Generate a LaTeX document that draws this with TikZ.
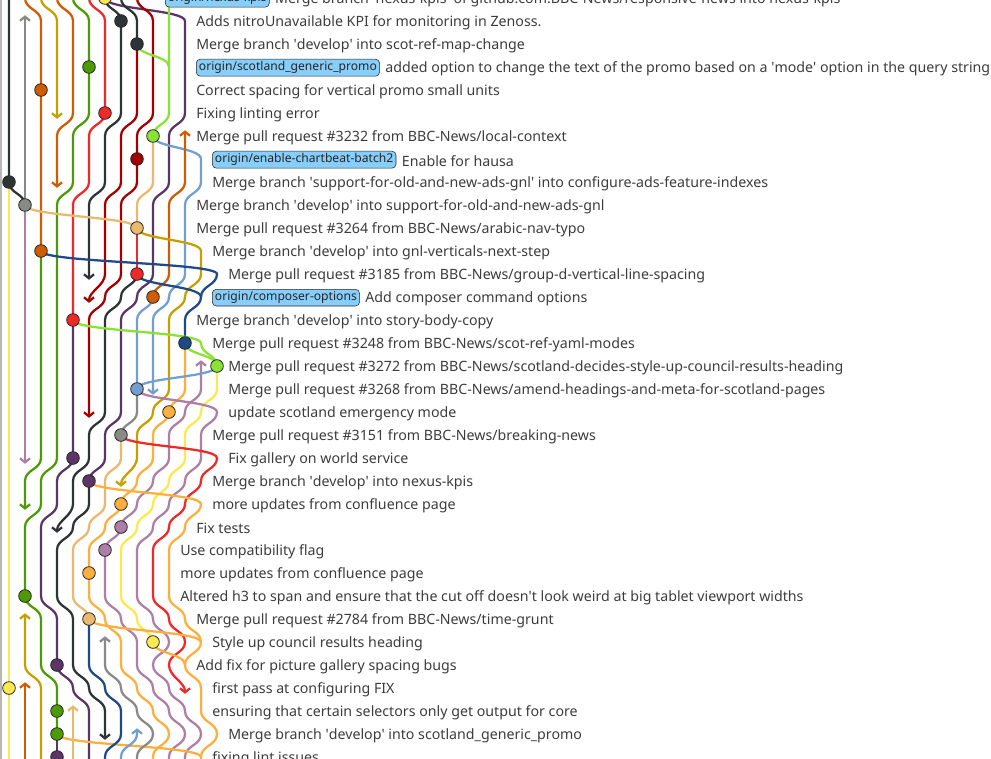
\documentclass[tikz,border=0pt]{standalone}
\usepackage{fontspec}
\setmainfont{Noto Sans}
\usetikzlibrary{arrows.meta,positioning}
\definecolor{LaneDark}{HTML}{2E3436}
\definecolor{LaneGray}{HTML}{888A85}
\definecolor{LaneRust}{HTML}{CE5C00}
\definecolor{LaneGold}{HTML}{C4A000}
\definecolor{LaneGreen}{HTML}{4E9A06}
\definecolor{LaneRed}{HTML}{EF2929}
\definecolor{LaneMaroon}{HTML}{A40000}
\definecolor{LaneLime}{HTML}{8AE234}
\definecolor{LanePlum}{HTML}{5C3566}
\definecolor{LaneSky}{HTML}{729FCF}
\definecolor{LaneNavy}{HTML}{204A87}
\definecolor{LaneTan}{HTML}{E9B96E}
\definecolor{LaneOrange}{HTML}{FCAF3E}
\definecolor{LaneMauve}{HTML}{AD7FA8}
\definecolor{LaneYellow}{HTML}{FCE94F}
\definecolor{RefBlue}{HTML}{87CEFA}
\definecolor{MsgGray}{HTML}{3C3C3C}
\newcommand\qs{\textquotesingle}

\begin{document}
\begin{tikzpicture}[x=12pt,y=-17.25pt,
  lane/.style={line width=1.7pt,draw=#1,
    to path={.. controls +(0,0.5) and +(0,-0.5) .. (\tikztotarget)}},
  dnt/.style={-{Straight Barb[length=3pt,width=7.5pt]}},
  upt/.style={{Straight Barb[length=3pt,width=7.5pt]}-},
  cm/.style={circle,draw=black!85,line width=0.6pt,fill=#1,
    minimum size=9.5pt,inner sep=0pt},
  msg/.style={anchor=west,inner sep=0pt,yshift=-1pt,text=MsgGray,
    font=\fontsize{10.65}{12}\selectfont},
  refbox/.style={anchor=west,draw=black!85,rounded corners=3pt,fill=RefBlue,
    inner xsep=2pt,inner ysep=1.8pt,yshift=-0.5pt,text=black!85,
    font=\fontsize{9.1}{11}\selectfont}]
  \useasboundingbox (-0.5625,0.087) rectangle (61.375,33.0435);
  \draw[LaneGray!60,line width=0.8pt] (-0.5,-0.3) -- (-0.5,33.3);
  % lanes coming in from the top
  \draw[lane=LaneDark] (0,-0.3) -- (0,8) to (1,9);
  \draw[lane=LaneGray,upt] (1,0.75) -- (1,9);
  \draw[lane=LaneRust] (1,-0.3) -- (1,0) to (2,1) -- (2,11);
  \draw[lane=LaneGold,dnt] (2,-0.3) -- (2,0) to (3,1) -- (3,5.25);
  \draw[lane=LaneRust,dnt] (3,-0.3) -- (3,0) to (4,1) -- (4,5) to (3,6) -- (3,8.25);
  \draw[lane=LaneGreen] (4,-0.3) -- (4,0) to (5,1) -- (5,5) to (4,6) -- (4,8)
    to (3,9) -- (3,20) to (2,21) -- (2,22) to (1,23) -- (1,26) to (2,27) -- (2,29)
    to (3,30) -- (3,32);
  \draw[lane=LaneRed] (5,-0.3) -- (5,0) to (6,1) -- (6,5) to (5,6) -- (5,8) to (4,9) -- (4,14);
  \draw[lane=LaneDark,dnt] (6,0) to (7,1) -- (7,5) to (6,6) -- (6,8) to (5,9) -- (5,12.25);
  \draw[lane=LanePlum] (6,0) to (11,1) -- (11,5) to (10,6) -- (10,8) to (9,9) -- (9,12)
    to (8,13) to (7,14) -- (7,18) to (6,19) -- (6,20) to (5,21);
  \draw[lane=LaneDark] (7,-0.3) -- (7,0) to (8,1) -- (8,2);
  \draw[lane=LaneMaroon,dnt] (8,-0.3) -- (8,0) to (9,1) -- (9,5) to (8,6) -- (8,8)
    to (7,9) -- (7,12) to (6,13) to (5,14) -- (5,18.25);
  \draw[lane=LaneMaroon,dnt] (8,2) -- (8,5) to (7,6) -- (7,8) to (6,9) -- (6,12) to (5,13.25);
  \draw[lane=LaneLime] (10,-0.3) -- (10,5) to (9,6);
  \draw[lane=LaneLime] (8,2) to (10,3);
  % middle block
  \draw[lane=LaneTan] (9,6) -- (9,8) to (8,9) -- (8,10);
  \draw[lane=LaneTan] (1,9) to (8,10);
  \draw[lane=LaneMauve,dnt] (1,9) -- (1,20.25);
  \draw[lane=LaneSky,dnt] (9,6) to (12,7) -- (12,8) to (11,9) -- (11,12) to (10,13)
    to (9,14) -- (9,17.25);
  \draw[lane=LaneRust,upt] (11,5.75) -- (11,8) to (10,9) -- (10,12) to (9,13);
  \draw[lane=LaneSky] (9,13) to (8,14) -- (8,17);
  \draw[lane=LaneRed] (8,10) -- (8,12);
  \draw[lane=LaneDark,dnt] (8,12) to (7,13) to (6,14) -- (6,18) to (5,19) -- (5,20)
    to (4,21) -- (4,22) to (3,23.25);
  \draw[lane=LaneGold,dnt] (8,10) to (12,11) -- (12,12) to (11,13) to (10,14) -- (10,17)
    to (9,18) to (8,19) -- (8,20) to (7,21.25);
  \draw[lane=LaneNavy] (2,11) to (13,12) to (12,13) to (11,14) -- (11,15);
  \draw[lane=LaneNavy] (8,12) to (12,13);
  \draw[lane=LaneGreen,dnt] (2,11) -- (2,20) to (1,21) -- (1,22.25);
  \draw[lane=LaneLime] (4,14) to (12,15) to (13,16);
  \draw[lane=LaneLime] (11,15) to (13,16);
  \draw[lane=LanePlum] (4,14) -- (4,20) to (3,21) -- (3,22) to (2,23) -- (2,26) to (3,27)
    -- (3,29) to (4,30) to (5,31) -- (5,33.3);
  \draw[lane=LaneOrange] (11,15) -- (11,17) to (10,18) to (9,19) -- (9,20) to (8,21)
    to (7,22) to (6,23) to (5,24) -- (5,26) to (6,27) to (7,28) -- (7,29) to (8,30)
    to (9,31) to (10,32) to (9,33) -- (9,33.3);
  \draw[lane=LaneMauve,upt] (12,15.75) -- (12,17) to (11,18) to (10,19) -- (10,20)
    to (9,21) to (8,22) to (7,23) to (6,24) -- (6,26) to (7,27) to (8,28) -- (8,29)
    to (9,30) to (10,31) to (11,32) to (10,33) -- (10,33.3);
  \draw[lane=LaneYellow] (13,16) -- (13,17) to (12,18) to (11,19) -- (11,20) to (10,21)
    to (9,22) to (8,23) to (7,24) -- (7,26) to (8,27) to (9,28);
  \draw[lane=LaneSky] (13,16) to (8,17);
  \draw[lane=LaneMauve] (8,17) to (13,18) to (12,19) -- (12,20) to (11,21) to (10,22)
    to (9,23) to (8,24) -- (8,26) to (9,27) to (10,28) to (9,29) to (10,30) to (11,31)
    to (12,32) to (11,33) -- (11,33.3);
  \draw[lane=LaneGray] (8,17) -- (8,18) to (7,19);
  \draw[lane=LaneTan] (7,19) -- (7,20) to (6,21) -- (6,22) to (5,23) to (4,24) -- (4,26)
    to (5,27);
  \draw[lane=LaneRed,dnt] (7,19) to (13,20) to (12,21) to (11,22) to (10,23) to (9,24)
    -- (9,26) to (10,27) to (11,28) to (10,29) to (11,30.25);
  \draw[lane=LaneDark,dnt] (5,21) -- (5,22) to (4,23) to (3,24) -- (3,26) to (4,27)
    -- (4,29) to (5,30) to (6,31) -- (6,32.25);
  \draw[lane=LaneOrange] (5,21) to (12,22) to (11,23) to (10,24) -- (10,26) to (11,27)
    to (12,28) to (11,29) to (12,30) -- (12,31) to (13,32) to (12,33) -- (12,33.3);
  % lower block
  \draw[lane=LaneOrange] (5,27) to (12,28);
  \draw[lane=LaneOrange] (9,28) to (11,29);
  \draw[lane=LaneOrange] (3,32) to (12,33);
  \draw[lane=LaneYellow] (0,8) -- (0,33.3);
  \draw[lane=LaneGold,upt] (1,26.75) -- (1,29) to (2,30) -- (2,33.3);
  \draw[lane=LaneRust,upt] (1,29.75) -- (1,33.3);
  \draw[lane=LaneTan,upt] (4,30.75) -- (4,33.3);
  \draw[lane=LaneNavy] (5,27) -- (5,29) to (6,30) to (7,31) -- (7,32) to (6,33) -- (6,33.3);
  \draw[lane=LaneGray,upt] (6,27.75) -- (6,29) to (7,30) to (8,31) to (9,32) to (8,33)
    -- (8,33.3);
  \draw[lane=LaneSky,upt] (8,31.75) -- (8,32) to (7,33) -- (7,33.3);
  \draw[lane=LanePlum] (3,32) -- (3,33.3);
  % commits
  \node[cm=LaneYellow] (c0) at (6,0) {};
  \node[cm=LaneDark] (c1) at (7,1) {};
  \node[cm=LaneDark] (c2) at (8,2) {};
  \node[cm=LaneGreen] (c3) at (5,3) {};
  \node[cm=LaneRust] (c4) at (2,4) {};
  \node[cm=LaneRed] (c5) at (6,5) {};
  \node[cm=LaneLime] (c6) at (9,6) {};
  \node[cm=LaneMaroon] (c7) at (8,7) {};
  \node[cm=LaneDark] (c8) at (0,8) {};
  \node[cm=LaneGray] (c9) at (1,9) {};
  \node[cm=LaneTan] (c10) at (8,10) {};
  \node[cm=LaneRust] (c11) at (2,11) {};
  \node[cm=LaneRed] (c12) at (8,12) {};
  \node[cm=LaneRust] (c13) at (9,13) {};
  \node[cm=LaneRed] (c14) at (4,14) {};
  \node[cm=LaneNavy] (c15) at (11,15) {};
  \node[cm=LaneLime] (c16) at (13,16) {};
  \node[cm=LaneSky] (c17) at (8,17) {};
  \node[cm=LaneOrange] (c18) at (10,18) {};
  \node[cm=LaneGray] (c19) at (7,19) {};
  \node[cm=LanePlum] (c20) at (4,20) {};
  \node[cm=LanePlum] (c21) at (5,21) {};
  \node[cm=LaneOrange] (c22) at (7,22) {};
  \node[cm=LaneMauve] (c23) at (7,23) {};
  \node[cm=LaneMauve] (c24) at (6,24) {};
  \node[cm=LaneOrange] (c25) at (5,25) {};
  \node[cm=LaneGreen] (c26) at (1,26) {};
  \node[cm=LaneTan] (c27) at (5,27) {};
  \node[cm=LaneYellow] (c28) at (9,28) {};
  \node[cm=LanePlum] (c29) at (3,29) {};
  \node[cm=LaneYellow] (c30) at (0,30) {};
  \node[cm=LaneGreen] (c31) at (3,31) {};
  \node[cm=LaneGreen] (c32) at (3,32) {};
  \node[cm=LanePlum] (c33) at (3,33) {};
  % messages
  \node[refbox] (b0) at (9.75,0) {origin/nexus-kpis};
  \node[msg,right=4pt of b0] (t0) {Merge branch \qs nexus-kpis\qs{} of github.com:BBC-News/responsive-news into nexus-kpis};
  \node[msg] (t1) at (11.6875,1) {Adds nitroUnavailable KPI for monitoring in Zenoss.};
  \node[msg] (t2) at (11.6875,2) {Merge branch \qs develop\qs{} into scot-ref-map-change};
  \node[refbox] (b3) at (11.6875,3) {origin/scotland\_generic\_promo};
  \node[msg,right=4pt of b3] (t3) {added option to change the text of the promo based on a \qs mode\qs{} option in the query string};
  \node[msg] (t4) at (11.6875,4) {Correct spacing for vertical promo small units};
  \node[msg] (t5) at (11.6875,5) {Fixing linting error};
  \node[msg] (t6) at (11.6875,6) {Merge pull request \#3232 from BBC-News/local-context};
  \node[refbox] (b7) at (12.6875,7) {origin/enable-chartbeat-batch2};
  \node[msg,right=4pt of b7] (t7) {Enable for hausa};
  \node[msg] (t8) at (12.6875,8) {Merge branch \qs support-for-old-and-new-ads-gnl\qs{} into configure-ads-feature-indexes};
  \node[msg] (t9) at (11.6875,9) {Merge branch \qs develop\qs{} into support-for-old-and-new-ads-gnl};
  \node[msg] (t10) at (11.6875,10) {Merge pull request \#3264 from BBC-News/arabic-nav-typo};
  \node[msg] (t11) at (12.6875,11) {Merge branch \qs develop\qs{} into gnl-verticals-next-step};
  \node[msg] (t12) at (13.6875,12) {Merge pull request \#3185 from BBC-News/group-d-vertical-line-spacing};
  \node[refbox] (b13) at (12.6875,13) {origin/composer-options};
  \node[msg,right=4pt of b13] (t13) {Add composer command options};
  \node[msg] (t14) at (11.6875,14) {Merge branch \qs develop\qs{} into story-body-copy};
  \node[msg] (t15) at (12.6875,15) {Merge pull request \#3248 from BBC-News/scot-ref-yaml-modes};
  \node[msg] (t16) at (13.6875,16) {Merge pull request \#3272 from BBC-News/scotland-decides-style-up-council-results-heading};
  \node[msg] (t17) at (13.6875,17) {Merge pull request \#3268 from BBC-News/amend-headings-and-meta-for-scotland-pages};
  \node[msg] (t18) at (13.6875,18) {update scotland emergency mode};
  \node[msg] (t19) at (12.6875,19) {Merge pull request \#3151 from BBC-News/breaking-news};
  \node[msg] (t20) at (13.6875,20) {Fix gallery on world service};
  \node[msg] (t21) at (12.6875,21) {Merge branch \qs develop\qs{} into nexus-kpis};
  \node[msg] (t22) at (12.6875,22) {more updates from confluence page};
  \node[msg] (t23) at (11.6875,23) {Fix tests};
  \node[msg] (t24) at (10.6875,24) {Use compatibility flag};
  \node[msg] (t25) at (10.6875,25) {more updates from confluence page};
  \node[msg] (t26) at (10.6875,26) {Altered h3 to span and ensure that the cut off doesn\qs t look weird at big tablet viewport widths};
  \node[msg] (t27) at (11.6875,27) {Merge pull request \#2784 from BBC-News/time-grunt};
  \node[msg] (t28) at (12.6875,28) {Style up council results heading};
  \node[msg] (t29) at (11.6875,29) {Add fix for picture gallery spacing bugs};
  \node[msg] (t30) at (12.6875,30) {first pass at configuring FIX};
  \node[msg] (t31) at (12.6875,31) {ensuring that certain selectors only get output for core};
  \node[msg] (t32) at (13.6875,32) {Merge branch \qs develop\qs{} into scotland\_generic\_promo};
  \node[msg] (t33) at (12.6875,33) {fixing lint issues};
\end{tikzpicture}
\end{document}
